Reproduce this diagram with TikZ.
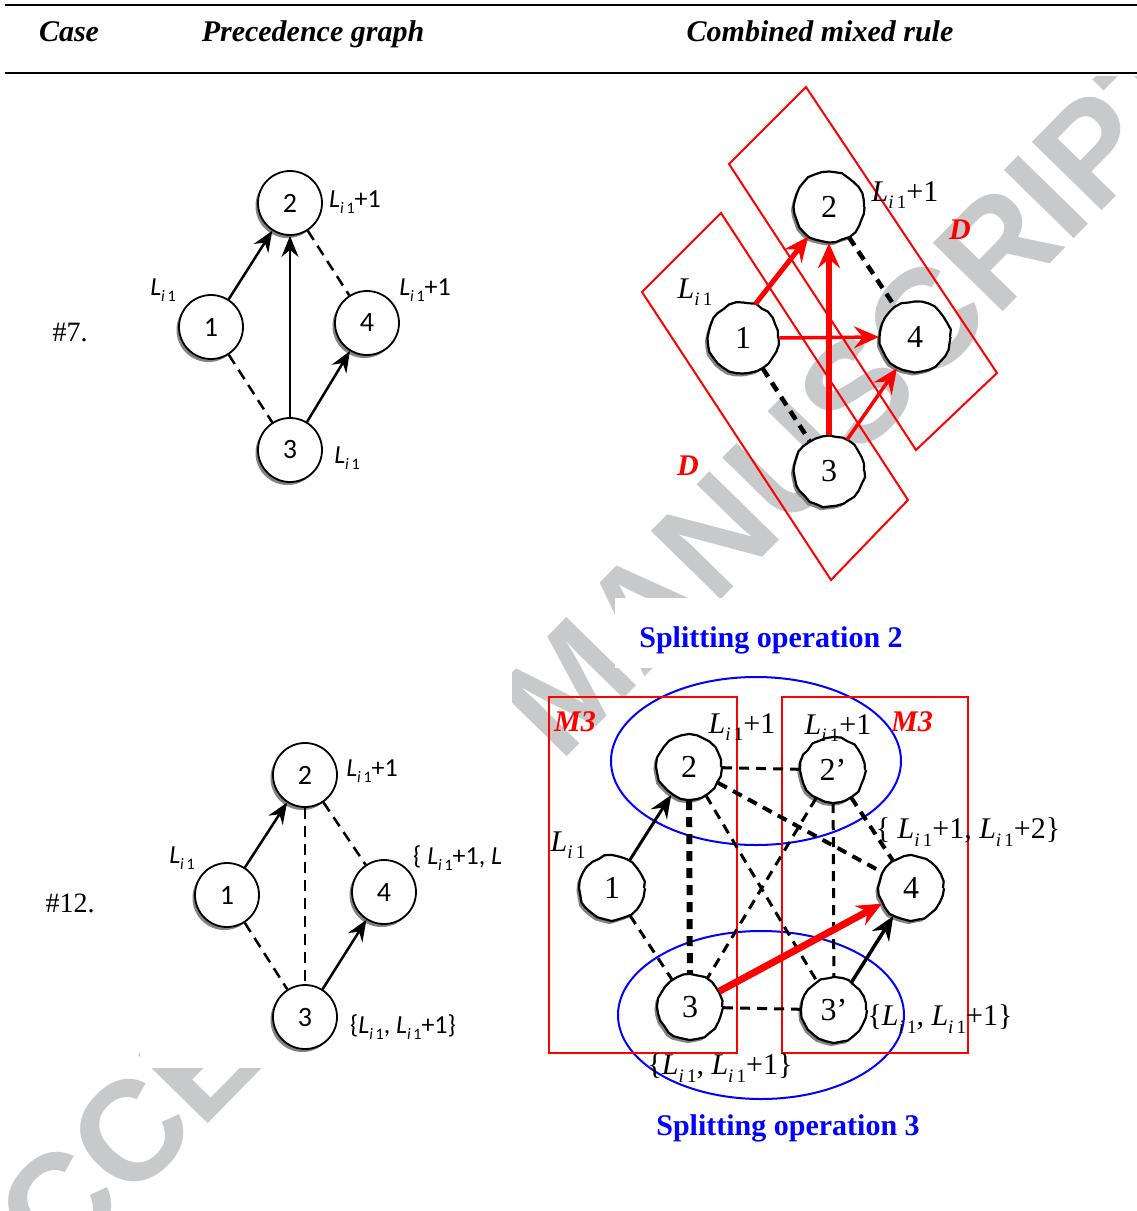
\documentclass[tikz,border=0pt]{standalone}
\usepackage{fontspec}
\setmainfont{Liberation Serif}
\newfontfamily\calfont{Carlito}
\newfontfamily\wmfont{Liberation Sans}
\usetikzlibrary{arrows.meta,shadows,decorations.pathmorphing}
\definecolor{wmgray}{RGB}{200,201,203}
\definecolor{shgray}{RGB}{130,130,130}
\definecolor{pureblue}{RGB}{0,0,255}
\definecolor{purered}{RGB}{255,0,0}
\newcommand\fs[1]{\fontsize{#1}{#1}\selectfont}
\newcommand\SL{\textit{L}\raisebox{-0.22em}{\fs{16}\textit{i}\,1}}
\newcommand\RL{\textit{L}\raisebox{-0.25em}{\fs{19}\textit{i}\,1}}
\begin{document}
\begin{tikzpicture}[x=1pt,y=-1pt,
  lnode/.style={circle,draw,line width=1.8pt,fill=white,minimum size=64pt,inner sep=0pt,
    font=\calfont\fs{28},drop shadow={shadow xshift=-2.5pt,shadow yshift=-3pt,fill=shgray,opacity=1}},
  rnode/.style={circle,draw,line width=2.2pt,fill=white,minimum size=#1,inner sep=0pt,
    font=\fs{32},decorate,decoration={random steps,segment length=7pt,amplitude=0.9pt},
    drop shadow={shadow xshift=-2.5pt,shadow yshift=-3pt,fill=shgray,opacity=1}},
  rnode/.default=70pt,
  llab/.style={inner sep=0pt,font=\calfont\fs{26}},
  rlab/.style={inner sep=0pt,font=\fs{30}},
  larrow/.style={line width=2.5pt,-{Stealth[length=21pt,width=17pt,inset=7pt]}},
  ldash/.style={line width=2.5pt,dash pattern=on 11pt off 7pt},
  rdash/.style={line width=#1,dash pattern=on 10pt off 7pt},
  rdash/.default=3pt,
  redarr/.style={purered,line width=#1,-{Stealth[length=25pt,width=22pt,inset=9pt]}},
  redbox/.style={purered,line width=2pt},
  redlab/.style={inner sep=0pt,text=purered,font=\bfseries\itshape\fs{30}},
  bluelab/.style={inner sep=0pt,text=pureblue,font=\bfseries\fs{30}},
  head/.style={inner sep=0pt,anchor=base,font=\bfseries\itshape\fs{30}},
  wm/.style={inner sep=0pt,text=wmgray,font=\wmfont\bfseries\fs{142}}
]
\pgfmathsetseed{7}
\useasboundingbox (0,0) rectangle (1137,1211);
% watermark, partly hidden as in the reference
\node[wm,anchor=base west,rotate=45.6] (wmark) at (-14,1350) {ACCEPTED MANUSCRIPT};
\fill[white] (0,0) rectangle (1137,76);
\fill[white] (140,660) rectangle (512,1068);
\fill[white] (512,760) rectangle (546,1068);
\fill[white] (615,598) rectangle (940,668);
% header
\draw[line width=2.5pt] (5,5) -- (1137,5);
\draw[line width=2.5pt] (5,73) -- (1137,73);
\node[head] (hcase) at (69,41) {Case};
\node[head] (hprec) at (313,41) {Precedence graph};
\node[head] (hcomb) at (820,41) {Combined mixed rule};
\node[inner sep=0pt,font=\fs{28}] (c7) at (70,333) {\#7.};
\node[inner sep=0pt,font=\fs{28}] (c12) at (70,903) {\#12.};

% ---------- case 7, precedence graph
\node[lnode] (a2) at (290,203) {2};
\node[lnode] (a1) at (211,327) {1};
\node[lnode] (a4) at (367,323) {4};
\node[lnode] (a3) at (290,450) {3};
\draw[larrow] (a1) -- (a2);
\draw[larrow] (a3) -- (a2);
\draw[larrow] (a3) -- (a4);
\draw[ldash] (a1) -- (a3);
\draw[ldash] (a2) -- (a4);
\node[llab] (la2) at (355,202) {\SL+1};
\node[llab] (la1) at (163,290) {\SL};
\node[llab] (la4) at (425,290) {\SL+1};
\node[llab] (la3) at (347,458) {\SL};

% ---------- case 7, combined rule
\draw[redbox] (642,292) -- (721,213) -- (908,500) -- (831,580) -- cycle;
\draw[redbox] (729,164) -- (806,87) -- (997,373) -- (916,450) -- cycle;
\node[rnode] (b2) at (829,207) {2};
\node[rnode] (b1) at (743,338) {1};
\node[rnode] (b4) at (915,337) {4};
\node[rnode] (b3) at (829,471) {3};
\draw[rdash=4.5pt] (b2) -- (b4);
\draw[rdash=4.5pt] (b1) -- (b3);
\draw[redarr=5pt] (b1.70) -- (b2.235);
\draw[redarr=6pt] (b3.north) -- (b2.south);
\draw[redarr=3.5pt] (b1.east) -- (b4.west);
\draw[redarr=3.5pt] (b3.60) -- (b4.240);
\node[rlab] (lb2) at (905,195) {\RL+1};
\node[rlab] (lb1) at (695,292) {\RL};
\node[redlab] (dA) at (960,230) {D};
\node[redlab] (dB) at (688,466) {D};
\node[bluelab] (sp2) at (771,640) {Splitting operation 2};

% ---------- case 12, precedence graph
\node[lnode] (c2) at (305,775) {2};
\node[lnode] (c1) at (227,895) {1};
\node[lnode] (c4) at (384,892) {4};
\node[lnode] (c3) at (305,1017) {3};
\draw[larrow] (c1) -- (c2);
\draw[larrow] (c3) -- (c4);
\draw[ldash] (c1) -- (c3);
\draw[ldash] (c2) -- (c3);
\draw[ldash] (c2) -- (c4);
\node[llab] (lc2) at (372,771) {\SL+1};
\node[llab] (lc1) at (182,858) {\SL};
\node[llab,anchor=west] (lc4) at (413,858) {\{ \SL+1, \textit{L}};
\node[llab] (lc3) at (403,1027) {\{\SL, \SL+1\}};

% ---------- case 12, combined rule
\draw[pureblue,line width=2pt] (756,761) ellipse [x radius=145, y radius=84];
\draw[pureblue,line width=2pt] (761,1015) ellipse [x radius=143, y radius=84];
\draw[redbox,line width=2.5pt] (549,697) rectangle (737,1053);
\draw[redbox,line width=2.5pt] (782,697) rectangle (968,1053);
\node[rnode=64pt] (d2) at (689,767) {2};
\node[rnode=64pt] (d2p) at (833,770) {2'};
\node[rnode=64pt] (d1) at (612,888) {1};
\node[rnode=64pt] (d4) at (911,888) {4};
\node[rnode=64pt] (d3) at (690,1007) {3};
\node[rnode=64pt] (d3p) at (834,1010) {3'};
\draw[rdash] (d2) -- (d2p);
\draw[rdash] (d3) -- (d3p);
\draw[rdash=6pt] (d2) -- (d3);
\draw[rdash] (d2p) -- (d3p);
\draw[rdash] (d1) -- (d3);
\draw[rdash] (d2) -- (d3p);
\draw[rdash] (d2p) -- (d3);
\draw[rdash=4pt] (d2) -- (d4);
\draw[rdash=4pt] (d2p) -- (d4);
\draw[line width=3pt,-{Stealth[length=23pt,width=19pt,inset=8pt]}] (d1) -- (d2);
\draw[line width=3.5pt,-{Stealth[length=24pt,width=20pt,inset=8pt]}] (d3p) -- (d4);
\draw[redarr=7pt] (d3) -- (d4);
\node[redlab] (m3a) at (575,722) {M3};
\node[redlab] (m3b) at (912,722) {M3};
\node[rlab] (ld2) at (742,727) {\RL+1};
\node[rlab] (ld2p) at (838,728) {\RL+1};
\node[rlab] (ld1) at (568,845) {\RL};
\node[rlab] (ld4) at (968,832) {\{ \RL+1, \RL+2\}};
\node[rlab] (ld3p) at (940,1019) {\{\RL, \RL+1\}};
\node[rlab] (ld3) at (720,1068) {\{\RL, \RL+1\}};
\node[bluelab] (sp3) at (788,1128) {Splitting operation 3};
\end{tikzpicture}
\end{document}
